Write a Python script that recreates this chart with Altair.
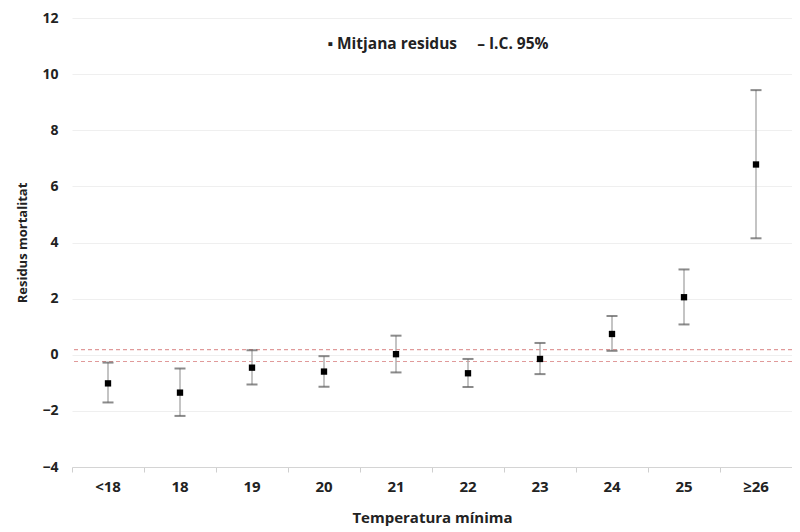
import altair as alt
import pandas as pd

categories = ["<18", "18", "19", "20", "21", "22", "23", "24", "25", "≥26"]
means = [-1.02, -1.35, -0.46, -0.60, 0.02, -0.66, -0.15, 0.74, 2.05, 6.78]
lower = [-1.70, -2.18, -1.06, -1.14, -0.63, -1.15, -0.69, 0.14, 1.08, 4.15]
upper = [-0.28, -0.49, 0.16, -0.05, 0.68, -0.15, 0.42, 1.38, 3.04, 9.43]
ref_lines = [0.18, -0.24]
y_ticks = [-4, -2, 0, 2, 4, 6, 8, 10, 12]
legend_text = "▪ Mitjana residus\u00a0\u00a0\u00a0\u00a0\u00a0– I.C. 95%"

df = pd.DataFrame({"cat": categories, "mean": means, "lo": lower, "hi": upper})
ref_df = pd.DataFrame({"y": ref_lines})

FONT = "Open Sans"
xscale = alt.Scale(domain=categories, paddingInner=0, paddingOuter=0)
yscale = alt.Scale(domain=[-4, 12], nice=False, zero=False)

x_ticks_axis = alt.Axis(orient="bottom", bandPosition=0, labels=False, title=None, tickColor="#cfcfcf",
                        tickSize=5, domainColor="#d4d4d4", grid=False)
x_label_axis = alt.Axis(orient="bottom", ticks=False, domain=False, labelAngle=0, labelFontSize=15,
                        labelFontWeight="bold", labelColor="#222", labelPadding=12,
                        title="Temperatura mínima", titleFontSize=15, titleFontWeight="bold",
                        titleColor="#222", titlePadding=16, labelFont=FONT, titleFont=FONT, grid=False)
y_axis = alt.Axis(values=y_ticks, ticks=False, domain=False, grid=True, gridColor="#efefef",
                  labelFontSize=14, labelFontWeight="bold", labelColor="#222", labelPadding=14,
                  title="Residus mortalitat", titleFontSize=13, titleFontWeight="bold",
                  titleColor="#222", titlePadding=12, labelFont=FONT, titleFont=FONT)

base = alt.Chart(df)

ticks_layer = base.mark_rule(opacity=0).encode(
    x=alt.X("cat:N", scale=xscale, sort=categories, axis=x_ticks_axis),
    y=alt.Y("lo:Q", scale=yscale, axis=y_axis),
    y2="hi:Q",
)

bars = base.mark_rule(color="#ababab", strokeWidth=1.4).encode(
    x=alt.X("cat:N", scale=xscale, sort=categories, axis=x_label_axis),
    y=alt.Y("lo:Q", scale=yscale),
    y2="hi:Q",
)

caps_lo = base.mark_tick(color="#5a5a5a", thickness=2, size=11).encode(
    x=alt.X("cat:N", scale=xscale, sort=categories, axis=None),
    y=alt.Y("lo:Q", scale=yscale),
)
caps_hi = base.mark_tick(color="#5a5a5a", thickness=2, size=11).encode(
    x=alt.X("cat:N", scale=xscale, sort=categories, axis=None),
    y=alt.Y("hi:Q", scale=yscale),
)

points = base.mark_square(color="black", size=40, opacity=1).encode(
    x=alt.X("cat:N", scale=xscale, sort=categories, axis=None),
    y=alt.Y("mean:Q", scale=yscale),
)

refs = alt.Chart(ref_df).mark_rule(color="#e09a9a", strokeDash=[4, 3], strokeWidth=1.2).encode(
    y=alt.Y("y:Q", scale=yscale),
)

legend = alt.Chart(pd.DataFrame({"t": [legend_text]})).mark_text(
    font=FONT, fontSize=15.5, fontWeight="bold", color="#222", align="center", baseline="middle"
).encode(x=alt.value(366), y=alt.value(26), text="t:N")

chart = alt.layer(ticks_layer, refs, bars, caps_lo, caps_hi, points, legend).resolve_axis(
    x="independent"
).properties(
    width=720, height=449,
    autosize=alt.AutoSizeParams(type="none"),
    padding={"left": 64, "top": 10, "right": 0, "bottom": 64},
).configure_view(stroke=None)

chart.save("out.html", embed_options={"renderer": "svg", "actions": False})
